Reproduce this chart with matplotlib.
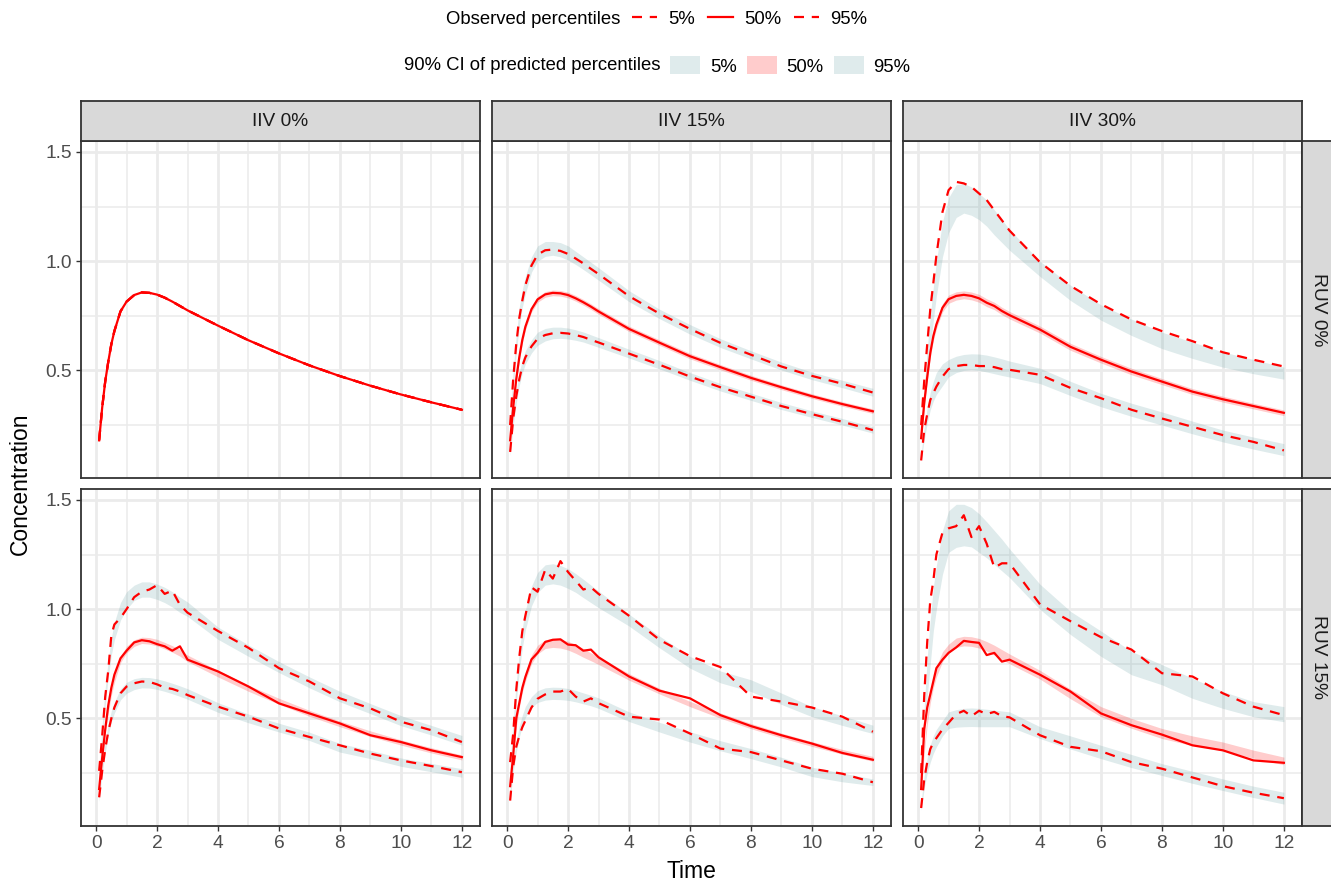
import matplotlib
matplotlib.use("Agg")
import matplotlib.pyplot as plt
from matplotlib.lines import Line2D
from matplotlib.patches import Patch

plt.rcParams['font.family'] = ['Liberation Sans', 'DejaVu Sans']

# ---------------- data ----------------
time = [0.1, 0.2, 0.3, 0.4, 0.5, 0.6, 0.8, 1.0, 1.25, 1.5, 1.75, 2.0, 2.25, 2.5, 2.75, 3,
        4, 5, 6, 7, 8, 9, 10, 11, 12]

iiv_labels = ['IIV 0%', 'IIV 15%', 'IIV 30%']
ruv_labels = ['RUV 0%', 'RUV 15%']
x_major = [0, 2, 4, 6, 8, 10, 12]
x_minor = [1, 3, 5, 7, 9, 11]
y_major = [0.5, 1.0, 1.5]
y_minor = [0.25, 0.75, 1.25]
pct_labels = ['5%', '50%', '95%']

# IIV 0%, RUV 0% (all percentiles coincide)
a_obs = [0.18, 0.33, 0.45, 0.54, 0.62, 0.68, 0.77, 0.815, 0.845, 0.857, 0.855, 0.847, 0.833,
         0.815, 0.795, 0.775, 0.705, 0.638, 0.578, 0.523, 0.474, 0.43, 0.39, 0.354, 0.32]

# IIV 15%, RUV 0%
b_p05 = [0.127, 0.28, 0.38, 0.46, 0.52, 0.56, 0.61, 0.645, 0.662, 0.67, 0.672, 0.669, 0.662,
         0.653, 0.64, 0.628, 0.577, 0.526, 0.472, 0.423, 0.38, 0.337, 0.30, 0.265, 0.227]
b_p50 = [0.18, 0.33, 0.46, 0.56, 0.64, 0.70, 0.78, 0.825, 0.848, 0.855, 0.853, 0.845, 0.83,
         0.812, 0.792, 0.77, 0.69, 0.627, 0.565, 0.515, 0.466, 0.423, 0.382, 0.346, 0.313]
b_p95 = [0.25, 0.46, 0.62, 0.74, 0.82, 0.89, 0.98, 1.03, 1.05, 1.053, 1.047, 1.033, 1.012,
         0.99, 0.965, 0.941, 0.84, 0.76, 0.69, 0.626, 0.572, 0.518, 0.475, 0.439, 0.399]
b_p05_lo = [0.11, 0.25, 0.35, 0.43, 0.49, 0.53, 0.58, 0.615, 0.635, 0.645, 0.647, 0.644, 0.638,
            0.63, 0.618, 0.606, 0.557, 0.507, 0.455, 0.406, 0.363, 0.321, 0.285, 0.25, 0.213]
b_p05_hi = [0.15, 0.3, 0.41, 0.49, 0.55, 0.59, 0.64, 0.675, 0.692, 0.698, 0.698, 0.694, 0.686,
            0.676, 0.663, 0.65, 0.597, 0.545, 0.49, 0.44, 0.396, 0.353, 0.315, 0.28, 0.242]
b_p50_lo = [0.17, 0.315, 0.445, 0.545, 0.625, 0.685, 0.767, 0.812, 0.835, 0.842, 0.84, 0.832,
            0.817, 0.799, 0.779, 0.757, 0.678, 0.615, 0.553, 0.503, 0.455, 0.412, 0.372, 0.336, 0.303]
b_p50_hi = [0.19, 0.345, 0.475, 0.575, 0.655, 0.715, 0.793, 0.838, 0.861, 0.868, 0.866, 0.858,
            0.843, 0.825, 0.805, 0.783, 0.703, 0.64, 0.578, 0.527, 0.478, 0.434, 0.393, 0.357, 0.324]
b_p95_lo = [0.22, 0.42, 0.58, 0.70, 0.79, 0.85, 0.95, 1.0, 1.022, 1.027, 1.02, 1.005, 0.985,
            0.962, 0.938, 0.913, 0.815, 0.737, 0.666, 0.605, 0.553, 0.502, 0.458, 0.421, 0.382]
b_p95_hi = [0.28, 0.5, 0.66, 0.79, 0.87, 0.93, 1.02, 1.07, 1.09, 1.09, 1.085, 1.07, 1.045,
            1.02, 0.995, 0.97, 0.865, 0.78, 0.71, 0.645, 0.59, 0.538, 0.492, 0.455, 0.418]

# IIV 30%, RUV 0%
c_p05 = [0.088, 0.227, 0.30, 0.365, 0.396, 0.426, 0.472, 0.506, 0.52, 0.525, 0.525, 0.52, 0.52,
         0.515, 0.506, 0.503, 0.48, 0.42, 0.373, 0.32, 0.28, 0.242, 0.204, 0.173, 0.134]
c_p50 = [0.19, 0.35, 0.47, 0.58, 0.657, 0.71, 0.787, 0.826, 0.841, 0.846, 0.841, 0.83, 0.81,
         0.795, 0.772, 0.753, 0.687, 0.608, 0.549, 0.495, 0.449, 0.403, 0.368, 0.337, 0.306]
c_p95 = [0.25, 0.45, 0.62, 0.78, 0.9, 1.025, 1.225, 1.325, 1.363, 1.356, 1.34, 1.31, 1.28,
         1.233, 1.187, 1.14, 0.995, 0.887, 0.803, 0.733, 0.68, 0.634, 0.583, 0.549, 0.518]
c_p05_lo = [0.09, 0.18, 0.26, 0.32, 0.36, 0.39, 0.43, 0.47, 0.49, 0.5, 0.503, 0.5, 0.493,
            0.485, 0.477, 0.47, 0.44, 0.385, 0.334, 0.29, 0.25, 0.21, 0.173, 0.14, 0.11]
c_p05_hi = [0.12, 0.24, 0.33, 0.4, 0.45, 0.49, 0.53, 0.55, 0.565, 0.573, 0.576, 0.575, 0.57,
            0.562, 0.553, 0.543, 0.51, 0.45, 0.395, 0.35, 0.31, 0.268, 0.227, 0.195, 0.165]
c_p50_lo = [0.175, 0.33, 0.45, 0.56, 0.637, 0.69, 0.768, 0.807, 0.822, 0.828, 0.823, 0.812,
            0.792, 0.778, 0.755, 0.736, 0.671, 0.592, 0.534, 0.48, 0.435, 0.39, 0.355, 0.324, 0.293]
c_p50_hi = [0.205, 0.37, 0.49, 0.6, 0.677, 0.73, 0.806, 0.845, 0.86, 0.864, 0.859, 0.848,
            0.828, 0.812, 0.789, 0.77, 0.703, 0.624, 0.564, 0.51, 0.463, 0.417, 0.382, 0.35, 0.319]
c_p95_lo = [0.17, 0.33, 0.48, 0.61, 0.73, 0.84, 1.02, 1.13, 1.2, 1.22, 1.21, 1.19, 1.16,
            1.12, 1.085, 1.05, 0.93, 0.82, 0.73, 0.66, 0.6, 0.555, 0.515, 0.485, 0.46]
c_p95_hi = [0.24, 0.42, 0.6, 0.75, 0.88, 1.0, 1.18, 1.29, 1.35, 1.355, 1.34, 1.31, 1.28,
            1.235, 1.19, 1.145, 1.0, 0.89, 0.8, 0.735, 0.675, 0.63, 0.585, 0.55, 0.515]

# IIV 0%, RUV 15%
d_p05 = [0.139, 0.26, 0.36, 0.44, 0.5, 0.55, 0.615, 0.646, 0.661, 0.669, 0.667, 0.656, 0.641,
         0.635, 0.623, 0.607, 0.554, 0.508, 0.454, 0.415, 0.377, 0.339, 0.308, 0.282, 0.254]
d_p50 = [0.177, 0.32, 0.45, 0.56, 0.64, 0.7, 0.775, 0.81, 0.848, 0.858, 0.853, 0.84, 0.83,
         0.81, 0.83, 0.769, 0.715, 0.646, 0.569, 0.523, 0.477, 0.423, 0.392, 0.354, 0.323]
d_p95 = [0.26, 0.42, 0.6, 0.72, 0.88, 0.93, 0.96, 1.0, 1.055, 1.08, 1.09, 1.11, 1.07,
         1.085, 1.02, 0.984, 0.9, 0.823, 0.73, 0.669, 0.592, 0.546, 0.485, 0.446, 0.392]
d_p05_lo = [0.12, 0.25, 0.345, 0.425, 0.485, 0.525, 0.585, 0.615, 0.632, 0.64, 0.639, 0.633,
            0.624, 0.613, 0.601, 0.588, 0.528, 0.48, 0.438, 0.399, 0.346, 0.316, 0.281, 0.256, 0.231]
d_p05_hi = [0.16, 0.29, 0.395, 0.475, 0.535, 0.575, 0.635, 0.665, 0.682, 0.688, 0.687, 0.681,
            0.672, 0.661, 0.649, 0.636, 0.572, 0.52, 0.478, 0.437, 0.385, 0.354, 0.319, 0.294, 0.27]
d_p50_lo = [0.165, 0.315, 0.435, 0.525, 0.605, 0.665, 0.755, 0.8, 0.83, 0.843, 0.84, 0.832,
            0.818, 0.803, 0.785, 0.76, 0.69, 0.624, 0.565, 0.51, 0.462, 0.417, 0.378, 0.342, 0.31]
d_p50_hi = [0.195, 0.345, 0.465, 0.555, 0.635, 0.695, 0.785, 0.83, 0.86, 0.872, 0.87, 0.862,
            0.848, 0.833, 0.815, 0.79, 0.72, 0.652, 0.592, 0.537, 0.488, 0.443, 0.402, 0.366, 0.333]
d_p95_lo = [0.21, 0.39, 0.56, 0.69, 0.79, 0.86, 0.95, 1.0, 1.04, 1.055, 1.055, 1.045, 1.03,
            1.01, 0.985, 0.967, 0.862, 0.784, 0.71, 0.64, 0.576, 0.522, 0.467, 0.424, 0.378]
d_p95_hi = [0.27, 0.47, 0.64, 0.77, 0.87, 0.94, 1.03, 1.08, 1.11, 1.125, 1.125, 1.115, 1.1,
            1.08, 1.055, 1.033, 0.918, 0.836, 0.76, 0.69, 0.624, 0.568, 0.513, 0.468, 0.422]

# IIV 15%, RUV 15%
e_p05 = [0.124, 0.28, 0.37, 0.42, 0.46, 0.49, 0.55, 0.59, 0.61, 0.623, 0.623, 0.635, 0.6,
         0.577, 0.592, 0.57, 0.508, 0.495, 0.431, 0.362, 0.346, 0.308, 0.27, 0.247, 0.208]
e_p50 = [0.19, 0.33, 0.5, 0.57, 0.64, 0.69, 0.77, 0.8, 0.85, 0.86, 0.862, 0.838, 0.835,
         0.81, 0.815, 0.78, 0.692, 0.627, 0.592, 0.515, 0.465, 0.423, 0.385, 0.342, 0.311]
e_p95 = [0.3, 0.43, 0.63, 0.78, 0.9, 0.97, 1.1, 1.08, 1.18, 1.14, 1.22, 1.17, 1.13,
         1.09, 1.1, 1.07, 0.97, 0.86, 0.785, 0.735, 0.6, 0.577, 0.55, 0.508, 0.439]
e_p05_lo = [0.125, 0.255, 0.345, 0.415, 0.465, 0.505, 0.55, 0.573, 0.584, 0.587, 0.586, 0.583,
            0.576, 0.567, 0.558, 0.546, 0.486, 0.438, 0.392, 0.352, 0.316, 0.278, 0.234, 0.21, 0.193]
e_p05_hi = [0.175, 0.305, 0.395, 0.465, 0.515, 0.555, 0.6, 0.627, 0.64, 0.643, 0.642, 0.637,
            0.628, 0.617, 0.606, 0.594, 0.53, 0.482, 0.439, 0.398, 0.362, 0.322, 0.277, 0.25, 0.223]
e_p50_lo = [0.185, 0.34, 0.46, 0.55, 0.62, 0.67, 0.75, 0.795, 0.82, 0.825, 0.822, 0.813,
            0.798, 0.78, 0.764, 0.747, 0.675, 0.612, 0.554, 0.501, 0.453, 0.411, 0.372, 0.336, 0.304]
e_p50_hi = [0.215, 0.38, 0.5, 0.59, 0.66, 0.71, 0.79, 0.835, 0.86, 0.866, 0.862, 0.853,
            0.838, 0.82, 0.8, 0.783, 0.705, 0.638, 0.578, 0.525, 0.477, 0.433, 0.394, 0.358, 0.326]
e_p95_lo = [0.24, 0.41, 0.575, 0.715, 0.825, 0.905, 1.015, 1.076, 1.11, 1.116, 1.11, 1.095,
            1.077, 1.053, 1.03, 1.007, 0.923, 0.823, 0.73, 0.663, 0.623, 0.564, 0.508, 0.468, 0.431]
e_p95_hi = [0.3, 0.49, 0.665, 0.805, 0.915, 0.995, 1.105, 1.168, 1.203, 1.208, 1.2, 1.185,
            1.163, 1.137, 1.11, 1.083, 0.977, 0.877, 0.784, 0.717, 0.677, 0.616, 0.554, 0.512, 0.469]

# IIV 30%, RUV 15%
f_p05 = [0.09, 0.22, 0.3, 0.36, 0.39, 0.41, 0.45, 0.48, 0.52, 0.535, 0.51, 0.535, 0.52,
         0.53, 0.51, 0.505, 0.423, 0.37, 0.35, 0.3, 0.27, 0.23, 0.19, 0.16, 0.135]
f_p50 = [0.177, 0.45, 0.55, 0.61, 0.67, 0.73, 0.769, 0.8, 0.825, 0.855, 0.85, 0.846, 0.79,
         0.8, 0.76, 0.769, 0.7, 0.623, 0.523, 0.469, 0.426, 0.377, 0.354, 0.308, 0.297]
f_p95 = [0.25, 0.6, 0.85, 1.04, 1.13, 1.25, 1.35, 1.37, 1.38, 1.43, 1.33, 1.38, 1.30,
         1.19, 1.21, 1.21, 1.022, 0.945, 0.872, 0.815, 0.707, 0.692, 0.615, 0.554, 0.515]
f_p05_lo = [0.08, 0.18, 0.25, 0.3, 0.34, 0.37, 0.42, 0.454, 0.46, 0.462, 0.463, 0.462, 0.462,
            0.462, 0.462, 0.462, 0.408, 0.36, 0.316, 0.275, 0.239, 0.203, 0.17, 0.138, 0.108]
f_p05_hi = [0.12, 0.24, 0.32, 0.38, 0.42, 0.45, 0.49, 0.53, 0.54, 0.546, 0.548, 0.546, 0.542,
            0.538, 0.534, 0.53, 0.462, 0.42, 0.377, 0.335, 0.293, 0.258, 0.223, 0.19, 0.162]
f_p50_lo = [0.16, 0.34, 0.47, 0.57, 0.64, 0.69, 0.76, 0.8, 0.825, 0.832, 0.83, 0.822, 0.808,
            0.79, 0.77, 0.75, 0.68, 0.59, 0.508, 0.455, 0.408, 0.376, 0.354, 0.318, 0.288]
f_p50_hi = [0.2, 0.38, 0.52, 0.62, 0.69, 0.74, 0.805, 0.84, 0.868, 0.876, 0.874, 0.866, 0.852,
            0.835, 0.815, 0.795, 0.72, 0.634, 0.554, 0.5, 0.454, 0.42, 0.392, 0.355, 0.323]
f_p95_lo = [0.2, 0.4, 0.6, 0.75, 0.9, 1.0, 1.16, 1.26, 1.283, 1.29, 1.285, 1.26, 1.235,
            1.205, 1.175, 1.145, 0.999, 0.884, 0.784, 0.7, 0.654, 0.592, 0.546, 0.508, 0.485]
f_p95_hi = [0.3, 0.55, 0.78, 0.95, 1.1, 1.2, 1.36, 1.45, 1.48, 1.48, 1.465, 1.437, 1.4,
            1.36, 1.32, 1.276, 1.114, 0.99, 0.9, 0.807, 0.746, 0.684, 0.623, 0.577, 0.554]

# panel table: (row, col) -> (obs percentiles, (lo, hi) bands)
panels = {
    (0, 0): ((a_obs, a_obs, a_obs), ((a_obs, a_obs), (a_obs, a_obs), (a_obs, a_obs))),
    (0, 1): ((b_p05, b_p50, b_p95), ((b_p05_lo, b_p05_hi), (b_p50_lo, b_p50_hi), (b_p95_lo, b_p95_hi))),
    (0, 2): ((c_p05, c_p50, c_p95), ((c_p05_lo, c_p05_hi), (c_p50_lo, c_p50_hi), (c_p95_lo, c_p95_hi))),
    (1, 0): ((d_p05, d_p50, d_p95), ((d_p05_lo, d_p05_hi), (d_p50_lo, d_p50_hi), (d_p95_lo, d_p95_hi))),
    (1, 1): ((e_p05, e_p50, e_p95), ((e_p05_lo, e_p05_hi), (e_p50_lo, e_p50_hi), (e_p95_lo, e_p95_hi))),
    (1, 2): ((f_p05, f_p50, f_p95), ((f_p05_lo, f_p05_hi), (f_p50_lo, f_p50_hi), (f_p95_lo, f_p95_hi))),
}

# ---------------- style ----------------
RED = '#ff0000'
band_colors = ['cadetblue', 'red', 'cadetblue']
band_alpha = 0.2
line_styles = [(0, (4.5, 3.5)), '-', (0, (4.5, 3.5))]
LW = 1.6
BORDER = '#333333'
GRID = '#ebebeb'
TICK_FS = 13.8

W, H = 1331, 881


def box(l, t, w, h):
    return [l / W, 1 - (t + h) / H, w / W, h / H]


col_left = [81, 492, 903]
pw = 399
row_top = [141, 489]
ph = 336.5

# axis limits from data (ggplot-like 5% expansion)
all_vals = [v for obs, bands in panels.values() for s in obs for v in s] + \
           [v for obs, bands in panels.values() for b in bands for s in b for v in s]
ymin, ymax = min(all_vals), max(all_vals)
yr = ymax - ymin
xmin, xmax = min(time), max(time)
xr = xmax - xmin

fig = plt.figure(figsize=(W / 100, H / 100), dpi=100)

for (r, c), (obs, bands) in panels.items():
    ax = fig.add_axes(box(col_left[c], row_top[r], pw, ph))
    ax.set_xlim(xmin - 0.05 * xr, xmax + 0.05 * xr)
    ax.set_ylim(ymin - 0.05 * yr, ymax + 0.05 * yr)
    ax.set_xticks(x_major)
    ax.set_xticks(x_minor, minor=True)
    ax.set_yticks(y_major)
    ax.set_yticks(y_minor, minor=True)
    ax.set_yticklabels([f'{v:.1f}' for v in y_major])
    ax.grid(which='major', color=GRID, lw=2.0, zorder=0)
    ax.grid(which='minor', color=GRID, lw=1.1, zorder=0)
    ax.set_axisbelow(True)
    for sp in ax.spines.values():
        sp.set_color(BORDER)
        sp.set_linewidth(1.3)
    ax.tick_params(which='minor', length=0)
    ax.tick_params(which='major', length=3.6, width=1.0, color=BORDER,
                   labelcolor='#4d4d4d', labelsize=TICK_FS, pad=3)
    if c != 0:
        ax.tick_params(axis='y', which='both', length=0, labelleft=False)
    if r != 1:
        ax.tick_params(axis='x', which='both', length=0, labelbottom=False)

    for (lo, hi), colr in zip(bands, band_colors):
        ax.fill_between(time, lo, hi, color=colr, alpha=band_alpha, lw=0, zorder=2)
    for series, ls in zip(obs, line_styles):
        ax.plot(time, series, color=RED, lw=LW, ls=ls, zorder=3)

# strips
for c, lab in enumerate(iiv_labels):
    s = fig.add_axes(box(col_left[c], 101, pw, 40))
    s.set_facecolor('#d9d9d9')
    s.set_xticks([]); s.set_yticks([])
    for sp in s.spines.values():
        sp.set_color(BORDER); sp.set_linewidth(1.3)
    s.text(0.5, 0.5, lab, transform=s.transAxes, ha='center', va='center',
           fontsize=TICK_FS, color='#1a1a1a')

for r, lab in enumerate(ruv_labels):
    s = fig.add_axes(box(1302, row_top[r], 34, ph))
    s.set_facecolor('#d9d9d9')
    s.set_xticks([]); s.set_yticks([])
    for sp in s.spines.values():
        sp.set_color(BORDER); sp.set_linewidth(1.3)
    s.text(16 / 34, 0.5, lab, transform=s.transAxes, ha='center', va='center',
           rotation=-90, fontsize=TICK_FS, color='#1a1a1a')

# axis titles
fig.text(691.5 / W, 1 - 872 / H, 'Time', ha='center', va='center', fontsize=16.5, color='black')
fig.text(20 / W, 1 - 483.5 / H, 'Concentration', ha='center', va='center', rotation=90,
         fontsize=16.5, color='black')

# legends
LEG_FS = 13.3
fig.text(620 / W, 1 - 19 / H, 'Observed percentiles', ha='right', va='center',
         fontsize=LEG_FS, color='black')
h1 = [Line2D([], [], color=RED, lw=LW, ls=ls) for ls in line_styles]
fig.legend(h1, pct_labels, ncol=3, loc='center left', bbox_to_anchor=(632 / W, 1 - 19 / H),
           frameon=False, fontsize=LEG_FS, handlelength=1.35, handletextpad=0.6,
           columnspacing=0.7, borderpad=0, borderaxespad=0)

fig.text(661 / W, 1 - 66 / H, '90% CI of predicted percentiles', ha='right', va='center',
         fontsize=LEG_FS, color='black')
h2 = [Patch(facecolor=colr, alpha=band_alpha, edgecolor='none') for colr in band_colors]
fig.legend(h2, pct_labels, ncol=3, loc='center left', bbox_to_anchor=(670 / W, 1 - 66 / H),
           frameon=False, fontsize=LEG_FS, handlelength=1.62, handleheight=1.08,
           handletextpad=0.54, columnspacing=0.54, borderpad=0, borderaxespad=0)

fig.savefig('out.png', dpi=100)
